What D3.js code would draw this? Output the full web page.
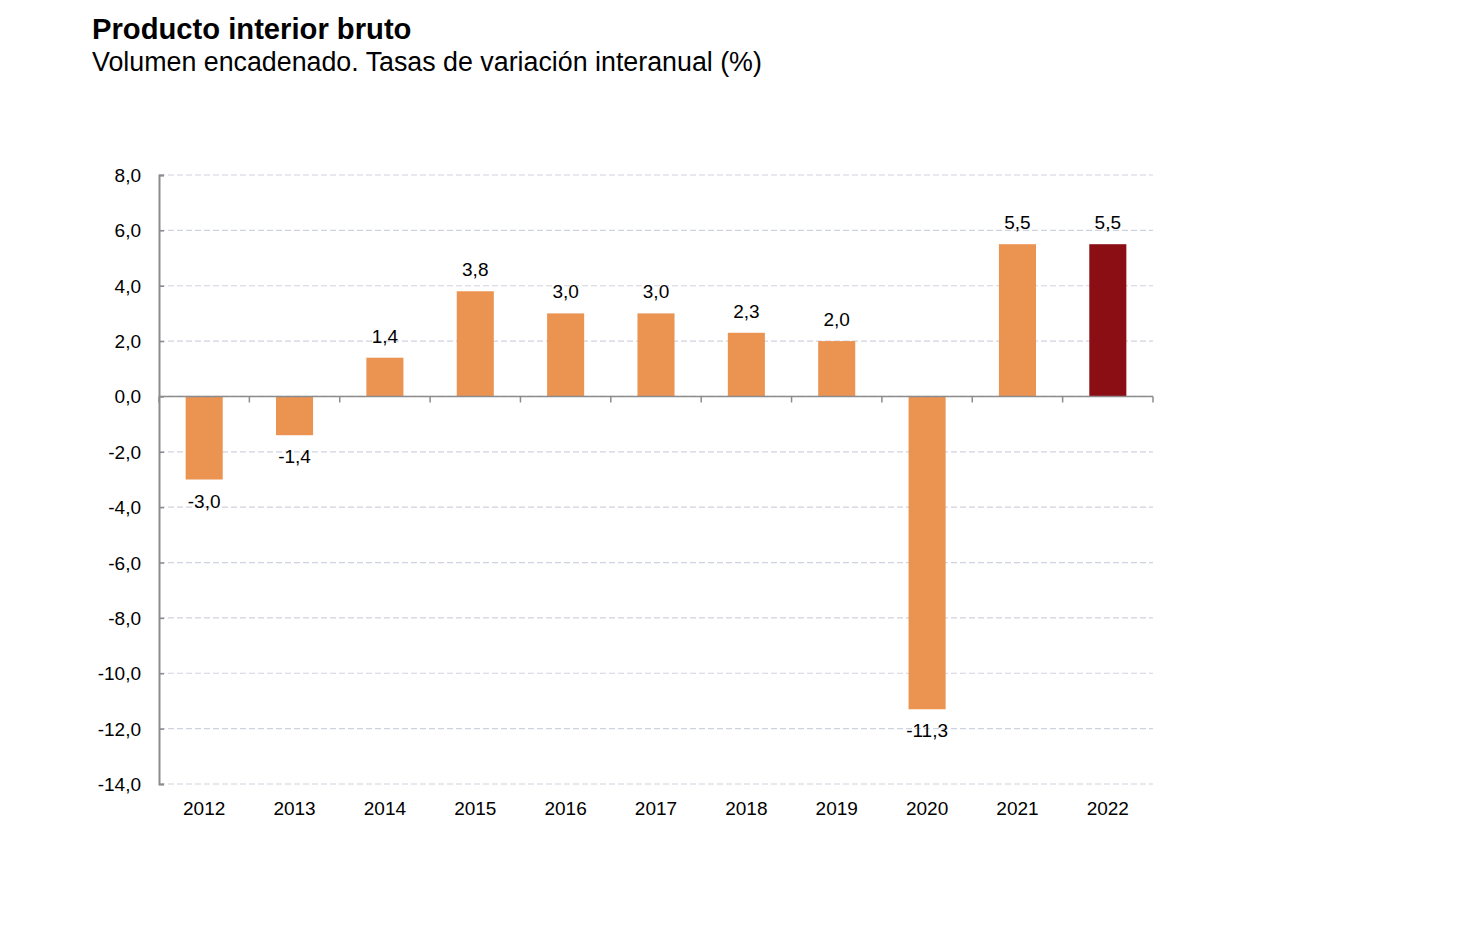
<!DOCTYPE html>
<html>
<head>
<meta charset="utf-8">
<script src="https://cdn.jsdelivr.net/npm/d3@7"></script>
<style>
  body { margin: 0; background: #fff; }
  svg { font-family: "Liberation Sans", Arial, sans-serif; }
</style>
</head>
<body>
<div id="chart"></div>
<script>
// data
const years = ["2012", "2013", "2014", "2015", "2016", "2017", "2018", "2019", "2020", "2021", "2022"];
const values = [-3.0, -1.4, 1.4, 3.8, 3.0, 3.0, 2.3, 2.0, -11.3, 5.5, 5.5];
const yTicks = [8, 6, 4, 2, 0, -2, -4, -6, -8, -10, -12, -14];

const width = 1468, height = 932;
const margin = { left: 159, right: 315, top: 175, bottom: 148 };

// spanish decimal comma, plain hyphen for negatives
const fmt = v => v.toFixed(1).replace(".", ",");

const svg = d3.select("#chart").append("svg")
    .attr("width", width)
    .attr("height", height);

// title
svg.append("text")
    .attr("x", 92).attr("y", 39)
    .attr("font-size", 29.2).attr("font-weight", "bold")
    .text("Producto interior bruto");
svg.append("text")
    .attr("x", 92).attr("y", 71)
    .attr("font-size", 26.8)
    .text("Volumen encadenado. Tasas de variación interanual (%)");

const x = d3.scaleBand()
    .domain(years)
    .range([margin.left, width - margin.right])
    .paddingInner(0.59)
    .paddingOuter(0.295);

const y = d3.scaleLinear()
    .domain([-14, 8])
    .range([height - margin.bottom, margin.top]);

// gridlines
svg.append("g")
    .selectAll("line")
    .data(yTicks)
    .join("line")
    .attr("x1", margin.left)
    .attr("x2", width - margin.right)
    .attr("y1", d => y(d))
    .attr("y2", d => y(d))
    .attr("stroke", "#cfd3e0")
    .attr("stroke-width", 1.2)
    .attr("stroke-dasharray", "6,3");

// bars
svg.append("g")
    .selectAll("rect")
    .data(values)
    .join("rect")
    .attr("x", (d, i) => x(years[i]))
    .attr("width", x.bandwidth())
    .attr("y", d => y(Math.max(0, d)))
    .attr("height", d => Math.abs(y(d) - y(0)))
    .attr("fill", (d, i) => i === years.length - 1 ? "#8b0e14" : "#eb9350");

// value labels
svg.append("g")
    .attr("font-size", 19)
    .attr("text-anchor", "middle")
    .selectAll("text")
    .data(values)
    .join("text")
    .attr("x", (d, i) => x(years[i]) + x.bandwidth() / 2)
    .attr("y", d => d >= 0 ? y(d) - 15 : y(d) + 28)
    .text(d => fmt(d));

// y axis
const yAxis = svg.append("g")
    .attr("transform", `translate(${margin.left},0)`)
    .call(d3.axisRight(y).tickValues(yTicks).tickSize(5).tickFormat(""));
yAxis.select(".domain").attr("stroke", "#8c8c8c").attr("stroke-width", 2);
yAxis.selectAll(".tick line").attr("stroke", "#8c8c8c").attr("stroke-width", 1.5);

svg.append("g")
    .attr("font-size", 19)
    .attr("text-anchor", "end")
    .selectAll("text")
    .data(yTicks)
    .join("text")
    .attr("x", margin.left - 18)
    .attr("y", d => y(d) + 7)
    .text(d => fmt(d));

// x axis along zero line, ticks at band boundaries
const step = x.step();
const bounds = d3.range(years.length + 1).map(i => margin.left + i * step);
svg.append("line")
    .attr("x1", margin.left).attr("x2", width - margin.right)
    .attr("y1", y(0)).attr("y2", y(0))
    .attr("stroke", "#8c8c8c").attr("stroke-width", 1.5);
svg.append("g")
    .selectAll("line")
    .data(bounds)
    .join("line")
    .attr("x1", d => d).attr("x2", d => d)
    .attr("y1", y(0)).attr("y2", y(0) + 6)
    .attr("stroke", "#8c8c8c").attr("stroke-width", 1.5);

// year labels
svg.append("g")
    .attr("font-size", 19)
    .attr("text-anchor", "middle")
    .selectAll("text")
    .data(years)
    .join("text")
    .attr("x", d => x(d) + x.bandwidth() / 2)
    .attr("y", height - margin.bottom + 31)
    .text(d => d);
</script>
</body>
</html>
